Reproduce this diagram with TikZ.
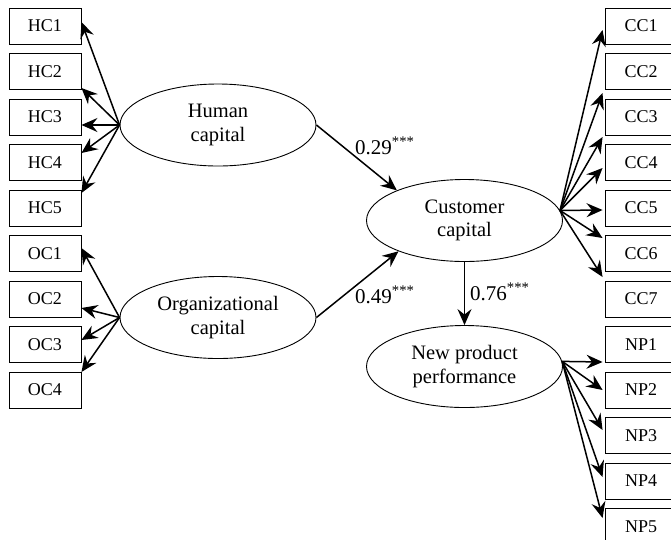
\documentclass[tikz,border=0pt]{standalone}
\usepackage{fontspec}
\setmainfont{Liberation Serif}
\usetikzlibrary{arrows.meta,calc,shapes.geometric}
\begin{document}
\begin{tikzpicture}[x=1pt,y=-1pt,
 ind/.style={draw, line width=0.9pt, minimum width=72pt, minimum height=36pt, inner sep=0pt, font=\fontsize{18}{20}\selectfont},
 lat/.style={draw, ellipse, line width=0.9pt, minimum width=196pt, minimum height=82pt, inner sep=0pt, align=center, font=\fontsize{20.5}{23.5}\selectfont},
 arr/.style={line width=1.5pt, -{Stealth[length=16pt,width=14pt,inset=5.5pt]}},
 coef/.style={anchor=base west, inner sep=0pt, font=\fontsize{21}{24}\selectfont}]
\useasboundingbox (0,0) rectangle (671,539);
\clip (0,0) rectangle (671,539);

% latent variables
\node[lat] (hc) at (218,125) {Human\\capital};
\node[lat] (oc) at (218,317.5) {Organizational\\capital};
\node[lat] (cc) at (464.5,220.5) {Customer\\capital};
\node[lat] (np) at (464.5,366.5) {New product\\performance};

% left indicators
\foreach \n/\y in {1/26,2/71.5,3/117,4/162.5,5/208}
  \node[ind] (hc\n) at (45,\y) {HC\n};
\foreach \n/\y in {1/253.5,2/299,3/344.5,4/390}
  \node[ind] (oc\n) at (45,\y) {OC\n};
% right indicators
\foreach \n/\y in {1/26,2/71.5,3/117,4/162.5,5/208,6/253.5,7/299}
  \node[ind] (cc\n) at (641,\y) {CC\n};
\foreach \n/\y in {1/344.5,2/390,3/435.5,4/481,5/526.5}
  \node[ind] (np\n) at (641,\y) {NP\n};

% loadings
\foreach \n/\d in {1/-4,2/16.5,3/8,4/-9.5,5/-15}
  \draw[arr] (hc.west) -- ($(hc\n.east)+(0,\d)$);
\foreach \n/\d in {1/-5.5,2/9,3/-4.5,4/-18}
  \draw[arr] (oc.west) -- ($(oc\n.east)+(0,\d)$);
\foreach \n/\d in {1/4,2/21.5,3/20,4/5.5,5/2,6/-15.5,7/-22}
  \draw[arr] (cc.6) -- ($(cc\n.west)+(-2,\d)$);
\foreach \n/\d in {1/17.5,2/0,3/-5.5,4/-4,5/-8.5}
  \draw[arr] (np.3) -- ($(np\n.west)+(-2,\d)$);

% structural paths
\draw[arr] (hc.east) -- (cc.156);
\draw[arr] (oc.east) -- (cc.205);
\draw[arr] (cc.south) -- (np.north);

\node[coef] (l1) at (355,154) {0.29\textsuperscript{***}};
\node[coef] (l2) at (355,303) {0.49\textsuperscript{***}};
\node[coef] (l3) at (470,300) {0.76\textsuperscript{***}};
\end{tikzpicture}
\end{document}
